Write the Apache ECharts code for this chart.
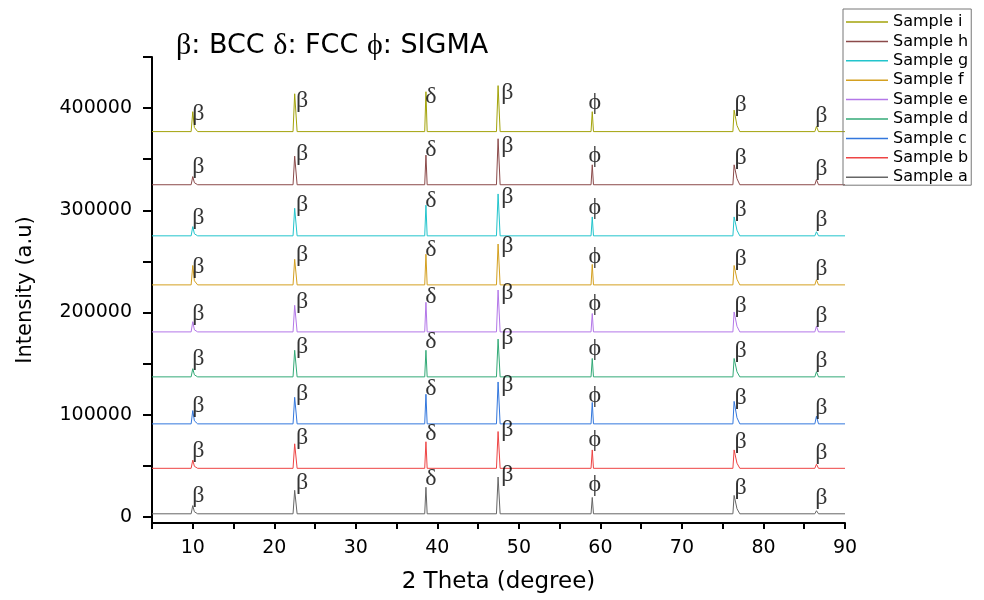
<!DOCTYPE html>
<html>
<head>
<meta charset="utf-8">
<script src="https://cdn.jsdelivr.net/npm/echarts@6.0.0/dist/echarts.min.js"></script>
<style>
  html, body { margin: 0; padding: 0; background: #fff; }
  #chart { width: 984px; height: 600px; }
</style>
</head>
<body>
<div id="chart"></div>
<script>
// 2 theta positions shared by every pattern
const thetas = [5, 9.8, 10.0, 10.2, 10.6, 22.3, 22.5, 22.8, 38.45, 38.6, 38.75, 47.25, 47.45, 47.7, 58.85, 59.0, 59.15, 76.25, 76.4, 76.75, 77.1, 86.3, 86.5, 86.75, 90]

// stacked (offset) intensities
const sampleA = [3000, 3000, 11000, 5000, 3000, 3000, 26000, 3000, 3000, 29000, 3000, 3000, 39000, 3000, 3000, 19000, 3000, 3000, 21000, 8000, 3000, 3000, 6000, 3000, 3000]
const sampleB = [47500, 47500, 55500, 49500, 47500, 47500, 71500, 47500, 47500, 73500, 47500, 47500, 83500, 47500, 47500, 65500, 47500, 47500, 65500, 52500, 47500, 47500, 51500, 47500, 47500]
const sampleC = [91000, 91000, 104000, 94000, 91000, 91000, 117000, 91000, 91000, 120000, 91000, 91000, 132000, 91000, 91000, 112000, 91000, 91000, 113000, 97000, 91000, 91000, 98500, 91000, 91000]
const sampleD = [137000, 137000, 145000, 139000, 137000, 137000, 163000, 137000, 137000, 163000, 137000, 137000, 174000, 137000, 137000, 155000, 137000, 137000, 155000, 142000, 137000, 137000, 142000, 137000, 137000]
const sampleE = [181000, 181000, 191000, 183000, 181000, 181000, 207000, 181000, 181000, 210000, 181000, 181000, 222000, 181000, 181000, 199000, 181000, 181000, 200500, 186500, 181000, 181000, 186500, 181000, 181000]
const sampleF = [227000, 227000, 246000, 231000, 227000, 227000, 252000, 227000, 227000, 257000, 227000, 227000, 267000, 227000, 227000, 247000, 227000, 227000, 246000, 232500, 227000, 227000, 232000, 227000, 227000]
const sampleG = [275000, 275000, 284000, 277000, 275000, 275000, 302000, 275000, 275000, 305000, 275000, 275000, 316000, 275000, 275000, 293500, 275000, 275000, 293500, 280500, 275000, 275000, 279000, 275000, 275000]
const sampleH = [325000, 325000, 333000, 327000, 325000, 325000, 353000, 325000, 325000, 354000, 325000, 325000, 370000, 325000, 325000, 344500, 325000, 325000, 344500, 331000, 325000, 325000, 330000, 325000, 325000]
const sampleI = [377000, 377000, 396500, 381000, 377000, 377000, 414000, 377000, 377000, 416000, 377000, 377000, 422000, 377000, 377000, 396500, 377000, 377000, 398000, 383000, 377000, 377000, 382000, 377000, 377000]

const sampleNames = ['Sample a', 'Sample b', 'Sample c', 'Sample d', 'Sample e', 'Sample f', 'Sample g', 'Sample h', 'Sample i']
const samples = [sampleA, sampleB, sampleC, sampleD, sampleE, sampleF, sampleG, sampleH, sampleI]
const colors = ['#666666', '#ee4444', '#3377dd', '#33aa77', '#b377e8', '#d4a020', '#22c4cc', '#8b4a4a', '#a3a30a']

// phase marks next to each peak (label spot, height above the pattern baseline)
const phases = ['β', 'β', 'δ', 'β', 'ϕ', 'β', 'β']
const phaseTheta = [10.7, 23.4, 39.2, 48.6, 59.3, 77.2, 87.1]
const phaseRise = [17500, 30000, 34000, 38000, 28000, 26000, 15500]

const xLabels = [10, 20, 30, 40, 50, 60, 70, 80, 90]
const yTicks = [0, 50000, 100000, 150000, 200000, 250000, 300000, 350000, 400000, 450000]
const yLabels = [0, 100000, 200000, 300000, 400000]

const chart = echarts.init(document.getElementById('chart'))

const lineSeries = samples.map((ys, i) => ({
  name: sampleNames[i],
  type: 'line',
  data: thetas.map((t, k) => [t, ys[k]]),
  symbol: 'none',
  color: colors[i],
  lineStyle: { width: 1, color: colors[i] },
  z: 2
}))

// one text mark per peak per pattern
const phaseData = []
samples.forEach(ys => {
  phases.forEach((p, k) => {
    phaseData.push([phaseTheta[k], ys[0] + phaseRise[k], p])
  })
})

const font = 'DejaVu Sans'

chart.setOption({
  animation: false,
  backgroundColor: '#fff',
  title: {
    text: '{g|β}: BCC {g|δ}: FCC {g|ϕ}: SIGMA',
    left: 176,
    top: 31,
    padding: 0,
    textStyle: {
      fontFamily: font,
      fontSize: 27,
      fontWeight: 'normal',
      color: '#000',
      rich: {
        g: { fontFamily: 'Liberation Serif, DejaVu Serif', fontSize: 30, color: '#000' }
      }
    }
  },
  legend: {
    orient: 'vertical',
    left: 843,
    top: 9,
    data: sampleNames.slice().reverse(),
    icon: 'rect',
    itemWidth: 42,
    itemHeight: 1.5,
    itemGap: 3.4,
    itemTextGap: 5,
    padding: [5, 3, 0, 3],
    borderColor: '#777',
    borderWidth: 1,
    selectedMode: false,
    textStyle: { fontFamily: font, fontSize: 16, lineHeight: 16, color: '#000' }
  },
  grid: {
    left: 152,
    right: 139,
    top: 57,
    bottom: 77,
    outerBoundsMode: 'none'
  },
  xAxis: {
    type: 'value',
    min: 5,
    max: 90,
    interval: 5,
    name: '2 Theta (degree)',
    nameLocation: 'middle',
    nameGap: 48,
    nameTextStyle: { fontFamily: font, fontSize: 23, color: '#000' },
    axisLine: { onZero: false, lineStyle: { color: '#000', width: 2 } },
    axisTick: { length: 6, lineStyle: { color: '#000', width: 2 } },
    axisLabel: {
      customValues: xLabels,
      margin: 16,
      fontFamily: font,
      fontSize: 19,
      color: '#000'
    },
    splitLine: { show: false }
  },
  yAxis: {
    type: 'value',
    min: -6000,
    max: 450000,
    name: 'Intensity (a.u)',
    nameLocation: 'middle',
    nameGap: 116,
    nameTextStyle: { fontFamily: font, fontSize: 21, color: '#000' },
    axisLine: { show: true, lineStyle: { color: '#000', width: 2 } },
    axisTick: { show: true, length: 9, customValues: yTicks, lineStyle: { color: '#000', width: 2 } },
    axisLabel: {
      customValues: yLabels,
      margin: 20,
      fontFamily: font,
      fontSize: 19,
      color: '#000',
      formatter: v => String(v)
    },
    splitLine: { show: false }
  },
  series: lineSeries.concat([{
    name: 'phases',
    type: 'scatter',
    data: phaseData,
    symbolSize: 0,
    silent: true,
    z: 3,
    label: {
      show: true,
      position: 'inside',
      formatter: p => p.value[2],
      fontFamily: 'Liberation Serif, DejaVu Serif',
      fontSize: 24,
      color: '#000'
    }
  }])
})
</script>
</body>
</html>
